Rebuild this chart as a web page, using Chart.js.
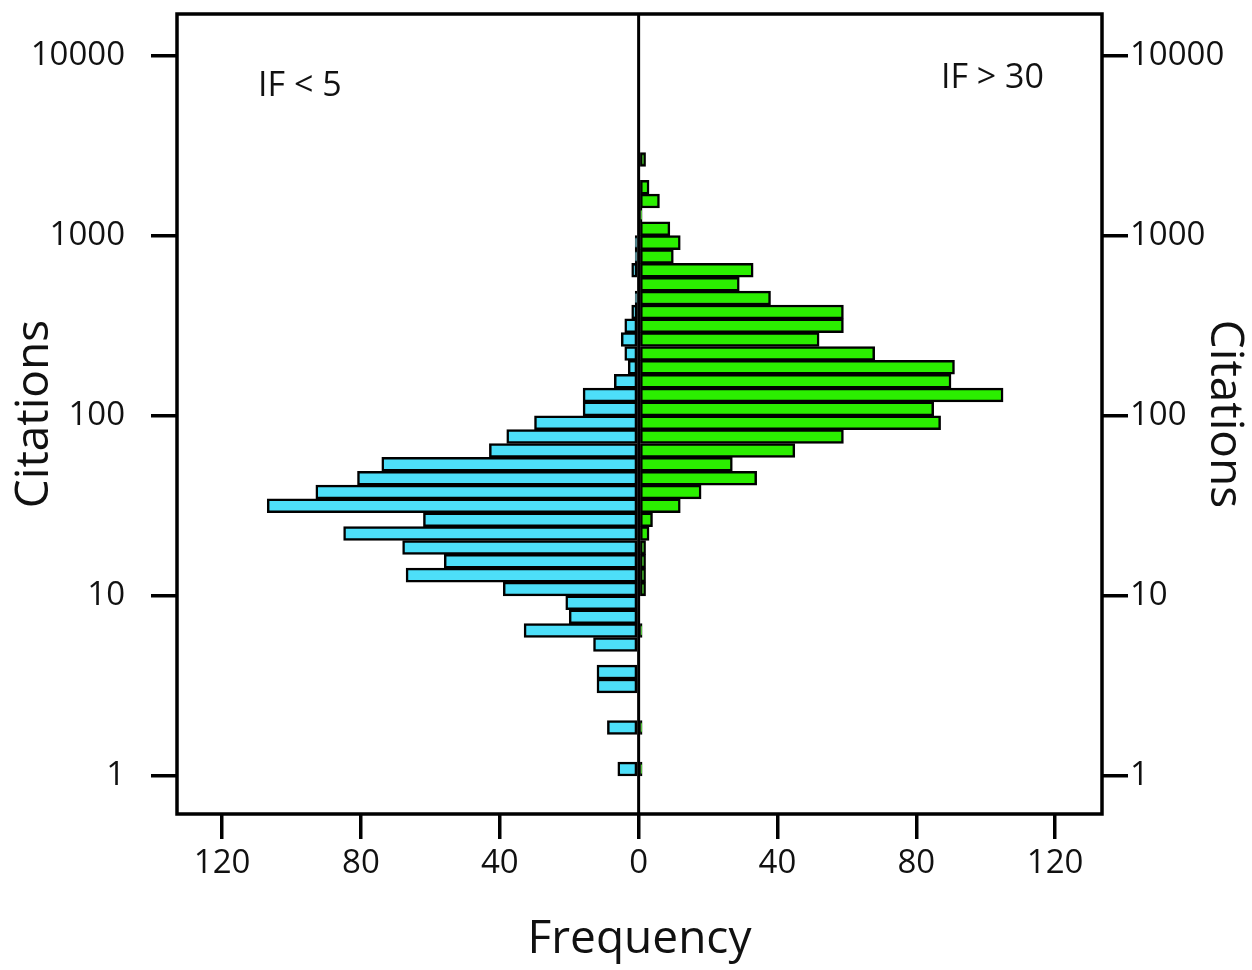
<!DOCTYPE html>
<html>
<head>
<meta charset="utf-8">
<script src="https://cdn.jsdelivr.net/npm/chart.js@4.4.0/dist/chart.umd.min.js"></script>
<style>
  body { margin: 0; background: #fff; }
  #wrap { width: 1252px; height: 970px; }
</style>
</head>
<body>
<div id="wrap"><canvas id="histChart"></canvas></div>
<script>
// histogram of citations, 13 bins per decade, first bin starts at 1 citation
var binsPerDecade = 13;
var ifLow  = [6, 0, 0, 9, 0, 0, 12, 12, 0, 13,
              33, 20, 21, 39, 67, 56, 68, 85, 62, 107,
              93, 81, 74, 43, 38, 30, 16, 16, 7, 3,
              4, 5, 4, 2, 1, 0, 2, 1, 1, 0,
              0, 0, 0, 0, 0];
var ifHigh = [1, 0, 0, 1, 0, 0, 0, 0, 0, 0,
              1, 0, 0, 2, 2, 2, 2, 3, 4, 12,
              18, 34, 27, 45, 59, 87, 85, 105, 90, 91,
              68, 52, 59, 59, 38, 29, 33, 10, 12, 9,
              1, 6, 3, 0, 2];
var yTicks = [1, 10, 100, 1000, 10000];
var xTicks = [-120, -80, -40, 0, 40, 80, 120];
var panelLabels = ["IF < 5", "IF > 30"];

var textColor = "#111";
var font = "Open Sans";

var lowPoints = [], highPoints = [];
for (var i = 0; i < ifLow.length; i++) {
  var mid = (i + 0.5) / binsPerDecade;   // bin centre in log10(citations)
  lowPoints.push({x: -ifLow[i], y: mid});
  highPoints.push({x: ifHigh[i], y: mid});
}

var framePlugin = {
  id: "frame",
  afterDatasetsDraw: function(chart) {
    var a = chart.chartArea, ctx = chart.ctx;
    ctx.save();
    ctx.strokeStyle = "#000";
    ctx.lineWidth = 3.5;
    ctx.strokeRect(a.left, a.top, a.right - a.left, a.bottom - a.top);
    var x0 = chart.scales.x.getPixelForValue(0);
    ctx.lineWidth = 3;
    ctx.beginPath();
    ctx.moveTo(x0, a.top);
    ctx.lineTo(x0, a.bottom);
    ctx.stroke();
    ctx.font = "34px '" + font + "'";
    ctx.fillStyle = textColor;
    ctx.textBaseline = "alphabetic";
    ctx.textAlign = "left";
    ctx.fillText(panelLabels[0], a.left + 81, a.top + 82);
    ctx.textAlign = "right";
    ctx.fillText(panelLabels[1], a.right - 58, a.top + 74);
    ctx.restore();
  }
};

function logTicks(s) {
  s.ticks = yTicks.map(function(v) { return {value: Math.log10(v)}; });
}
function logLabel(v) {
  return String(Math.round(Math.pow(10, v)));
}
function fixWidth(w) {
  return function(s) {
    s.width = w;
    s.paddingTop = 0;
    s.paddingBottom = 0;
  };
}

var ctx = document.getElementById("histChart").getContext("2d");
var chart = new Chart(ctx, {
  type: "bar",
  data: {
    datasets: [{
      label: panelLabels[0],
      data: lowPoints,
      backgroundColor: "#4ddff9",
      borderColor: "#000",
      borderWidth: 2.5,
      borderSkipped: false,
      grouped: false,
      barPercentage: 1,
      categoryPercentage: 1
    }, {
      label: panelLabels[1],
      data: highPoints,
      backgroundColor: "#2bee00",
      borderColor: "#000",
      borderWidth: 2.5,
      borderSkipped: false,
      grouped: false,
      barPercentage: 1,
      categoryPercentage: 1
    }]
  },
  options: {
    indexAxis: "y",
    responsive: true,
    maintainAspectRatio: false,
    animation: false,
    layout: { padding: { top: 14, left: 0, right: 0, bottom: 0 } },
    plugins: { legend: { display: false }, tooltip: { enabled: false } },
    scales: {
      x: {
        type: "linear",
        min: -133,
        max: 133.5,
        afterBuildTicks: function(s) { s.ticks = xTicks.map(function(v) { return {value: v}; }); },
        afterFit: function(s) { s.height = 156; s.paddingLeft = 0; s.paddingRight = 0; },
        grid: { drawOnChartArea: false, color: "#000", lineWidth: 3.5, tickLength: 25 },
        border: { display: false },
        ticks: {
          padding: 5, color: textColor, font: { family: font, size: 33 },
          callback: function(v) { return Math.abs(v); }
        },
        title: { display: true, text: "Frequency", color: textColor, font: { family: font, size: 46 }, padding: { bottom: 3 } }
      },
      y: {
        type: "linear",
        position: "left",
        offset: false,
        min: -0.211,
        max: 4.231,
        afterBuildTicks: logTicks,
        afterFit: fixWidth(177),
        grid: { offset: false, drawOnChartArea: false, color: "#000", lineWidth: 3.5, tickLength: 26 },
        border: { display: false },
        ticks: { padding: 26, color: textColor, font: { family: font, size: 33 }, callback: logLabel },
        title: { display: true, text: "Citations", color: textColor, font: { family: font, size: 46 }, padding: { top: 7 } }
      },
      y2: {
        type: "linear",
        position: "right",
        offset: false,
        min: -0.211,
        max: 4.231,
        afterBuildTicks: logTicks,
        afterFit: fixWidth(150),
        grid: { offset: false, drawOnChartArea: false, color: "#000", lineWidth: 3.5, tickLength: 26 },
        border: { display: false },
        ticks: { padding: 2, color: textColor, font: { family: font, size: 33 }, callback: logLabel },
        title: { display: true, text: "Citations", color: textColor, font: { family: font, size: 46 }, padding: { top: 0 } }
      }
    }
  },
  plugins: [framePlugin]
});
</script>
</body>
</html>
